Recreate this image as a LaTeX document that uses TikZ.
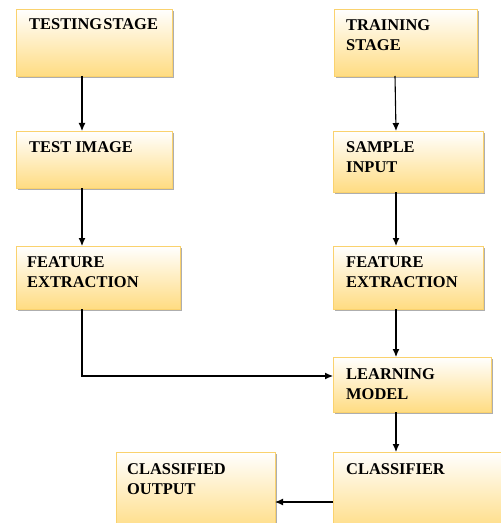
\documentclass[tikz,border=0pt]{standalone}
\usepackage{fontspec}
\setmainfont{Liberation Serif}
\usetikzlibrary{arrows.meta,shadows,calc}
\definecolor{boxfill}{RGB}{255,220,130}
\definecolor{boxline}{RGB}{250,210,110}
\begin{document}
\begin{tikzpicture}[x=1bp,y=-1bp,
  stagebox/.style={draw=boxline, line width=0.9bp, top color=white, bottom color=boxfill,
    anchor=north west, inner sep=0pt, outer sep=0pt,
    drop shadow={shadow xshift=1.8bp,shadow yshift=-1.8bp,fill=black!45,opacity=0.7}},
  boxtext/.style={anchor=north west, inner sep=0pt, align=left,
    font=\fontsize{16.5}{20}\bfseries\selectfont},
  flow/.style={draw=black, line width=1.1bp, -{Latex[length=8bp,width=7bp]}}]
\useasboundingbox (0,0) rectangle (501,523);
\fill[white] (0,0) rectangle (501,523);
\begin{scope}
\clip (0,0) rectangle (501,523);
\node[stagebox, minimum width=156bp, minimum height=67bp] (ts) at (16,9) {};
\node[stagebox, minimum width=143bp, minimum height=67bp] (tr) at (334,9) {};
\node[stagebox, minimum width=156bp, minimum height=57bp] (ti) at (16,131) {};
\node[stagebox, minimum width=150bp, minimum height=61bp] (si) at (333,131) {};
\node[stagebox, minimum width=164bp, minimum height=63bp] (fe1) at (16,246) {};
\node[stagebox, minimum width=150bp, minimum height=63bp] (fe2) at (333,246) {};
\node[stagebox, minimum width=158bp, minimum height=55bp] (lm) at (333,357) {};
\node[stagebox, minimum width=180bp, minimum height=80bp] (cl) at (333,452) {};
\node[stagebox, minimum width=159bp, minimum height=80bp] (co) at (116,452) {};
\end{scope}

\node[boxtext] (tts) at ($(ts.north west)+(13,9.5)$) {{\spaceskip=1.2pt TESTING STAGE}};
\node[boxtext] (ttr) at ($(tr.north west)+(12,10)$) {TRAINING\\STAGE};
\node[boxtext] (tti) at ($(ti.north west)+(13,10)$) {TEST IMAGE};
\node[boxtext] (tsi) at ($(si.north west)+(13,10)$) {SAMPLE\\INPUT};
\node[boxtext] (tfe1) at ($(fe1.north west)+(11,10.5)$) {FEATURE\\EXTRACTION};
\node[boxtext] (tfe2) at ($(fe2.north west)+(13,10.5)$) {FEATURE\\EXTRACTION};
\node[boxtext] (tlm) at ($(lm.north west)+(13,11)$) {LEARNING\\MODEL};
\node[boxtext] (tcl) at ($(cl.north west)+(13,11)$) {CLASSIFIER};
\node[boxtext] (tco) at ($(co.north west)+(11,11)$) {CLASSIFIED\\OUTPUT};

\coordinate (cL) at (82,0);
\coordinate (cR) at (396,0);
\draw[flow] (ts.south -| cL) -- (ti.north -| cL);
\draw[flow] (ti.south -| cL) -- (fe1.north -| cL);
\draw[flow] (fe1.south -| cL) |- ($(lm.north west)+(0,19)$);
\draw[flow] ($(tr.south west)+(61,0)$) -- (si.north -| cR);
\draw[flow] (si.south -| cR) -- (fe2.north -| cR);
\draw[flow] (fe2.south -| cR) -- (lm.north -| cR);
\draw[flow] (lm.south -| cR) -- (cl.north -| cR);
\draw[flow] ($(cl.north west)+(0,50)$) -- ($(co.north east)+(0,50)$);
\end{tikzpicture}
\end{document}
